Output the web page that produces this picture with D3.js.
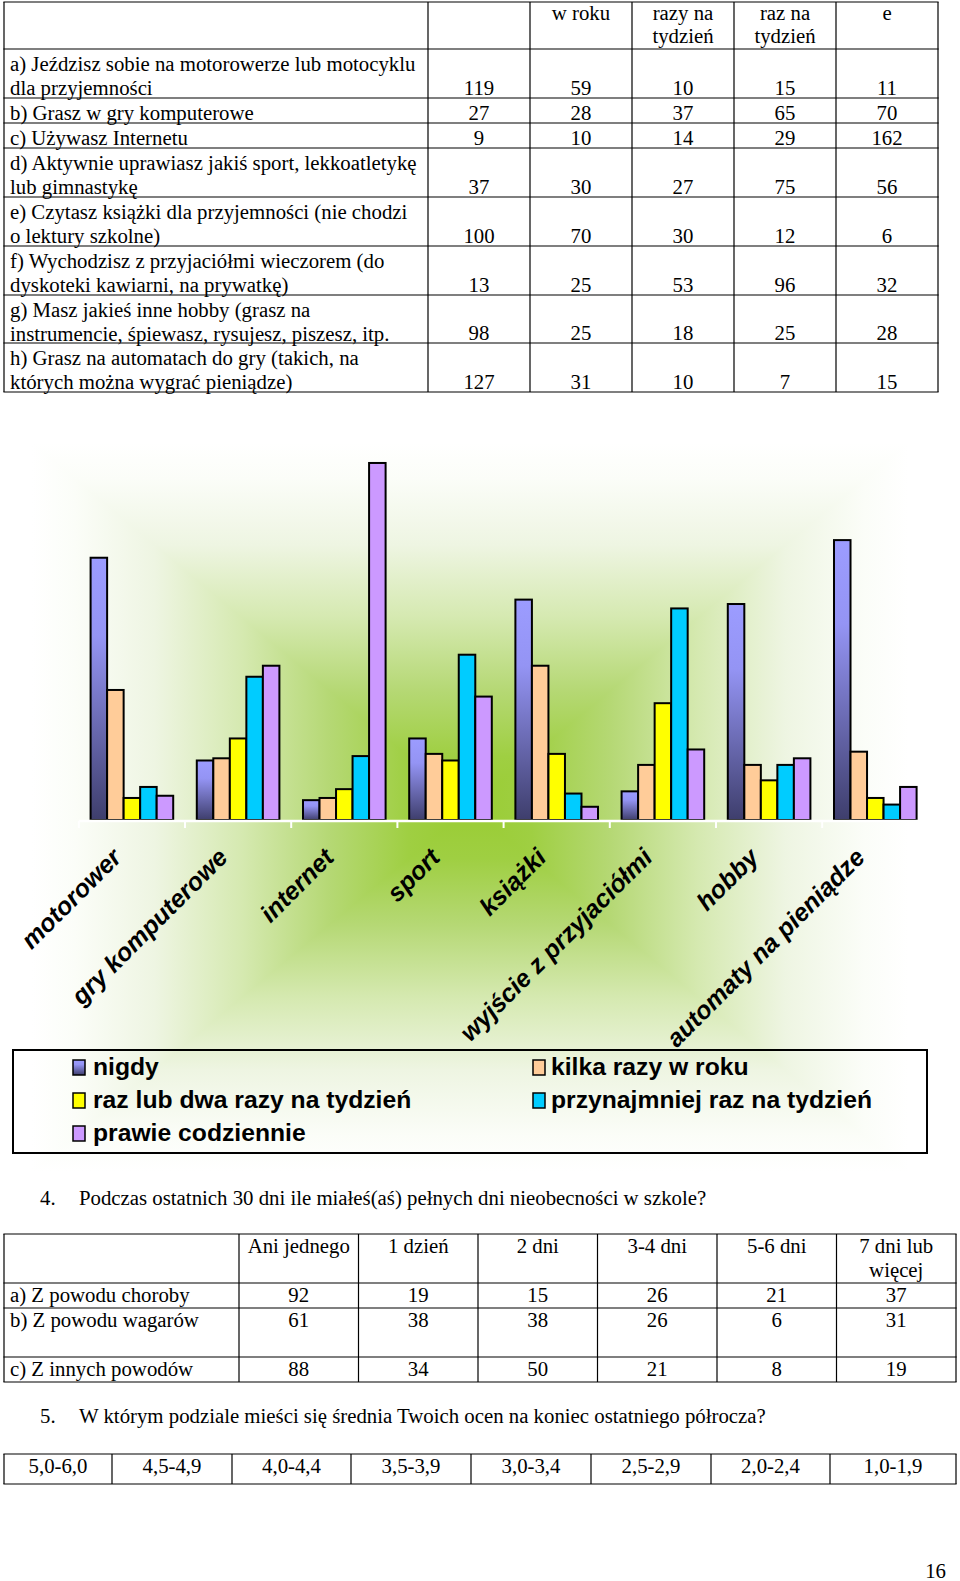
<!DOCTYPE html>
<html><head><meta charset="utf-8">
<script src="https://cdn.jsdelivr.net/npm/d3@7"></script>
<style>body{margin:0;background:#fff} svg{display:block}</style>
</head><body>
<script>
// ---------------- DATA ----------------
const categories = ["motorower","gry komputerowe","internet","sport","książki","wyjście z przyjaciółmi","hobby","automaty na pieniądze"];
const seriesNames = ["nigdy","kilka razy w roku","raz lub dwa razy na tydzień","przynajmniej raz na tydzień","prawie codziennie"];
const nigdy = [119,27,9,37,100,13,98,127];
const kilkaRazyWRoku = [59,28,10,30,70,25,25,31];
const razLubDwa = [10,37,14,27,30,53,18,10];
const przynajmniej = [15,65,29,75,12,96,25,7];
const prawieCodziennie = [11,70,162,56,6,32,28,15];
const seriesColors = ["url(#gNigdy)","#FFCC99","#FFFF00","#00CCFF","#CC99FF"];

const table1Header = [[], ["w roku"], ["razy na","tydzień"], ["raz na","tydzień"], ["e"]];
const table1Labels = [
  ["a) Jeździsz sobie na motorowerze lub motocyklu","dla przyjemności"],
  ["b) Grasz w gry komputerowe"],
  ["c) Używasz Internetu"],
  ["d) Aktywnie uprawiasz jakiś sport, lekkoatletykę","lub gimnastykę"],
  ["e) Czytasz książki dla przyjemności (nie chodzi","o lektury szkolne)"],
  ["f) Wychodzisz z przyjaciółmi wieczorem (do","dyskoteki kawiarni, na prywatkę)"],
  ["g) Masz jakieś inne hobby (grasz na","instrumencie, śpiewasz, rysujesz, piszesz, itp."],
  ["h) Grasz na automatach do gry (takich, na","których można wygrać pieniądze)"]
];

const question4Num = "4.";
const question4 = "Podczas ostatnich 30 dni ile miałeś(aś) pełnych dni nieobecności w szkole?";
const table2Header = [[], ["Ani jednego"], ["1 dzień"], ["2 dni"], ["3-4 dni"], ["5-6 dni"], ["7 dni lub","więcej"]];
const table2Labels = ["a) Z powodu choroby","b) Z powodu wagarów","c) Z innych powodów"];
const zPowoduChoroby = [92,19,15,26,21,37];
const zPowoduWagarow = [61,38,38,26,6,31];
const zInnychPowodow = [88,34,50,21,8,19];
const question5Num = "5.";
const question5 = "W którym podziale mieści się średnia Twoich ocen na koniec ostatniego półrocza?";
const gradeRanges = ["5,0-6,0","4,5-4,9","4,0-4,4","3,5-3,9","3,0-3,4","2,5-2,9","2,0-2,4","1,0-1,9"];
const pageNumber = "16";

// ---------------- SETUP ----------------
const W = 960, H = 1581;
const SERIF = "'Liberation Serif','Times New Roman',serif";
const SANS = "'Liberation Sans',Arial,sans-serif";
const FS = 20.8;
const svg = d3.select("body").append("svg").attr("width", W).attr("height", H);
svg.append("rect").attr("width", W).attr("height", H).attr("fill", "#fff");
const defs = svg.append("defs");

function drawGrid(g, xs, ys) {
  g.selectAll("line.v").data(xs).join("line").attr("class","v")
    .attr("x1", d => d).attr("x2", d => d).attr("y1", ys[0]).attr("y2", ys[ys.length-1])
    .attr("stroke", "#000").attr("stroke-width", 1.2);
  g.selectAll("line.h").data(ys).join("line").attr("class","h")
    .attr("y1", d => d).attr("y2", d => d).attr("x1", xs[0] - 0.6).attr("x2", xs[xs.length-1] + 0.6)
    .attr("stroke", "#000").attr("stroke-width", 1.2);
}
function txt(g, x, y, s, anchor) {
  return g.append("text").attr("x", x).attr("y", y).attr("text-anchor", anchor || "start")
    .attr("font-family", SERIF).attr("font-size", FS).attr("fill", "#000").text(s);
}

// ---------------- TABLE 1 ----------------
const t1 = svg.append("g");
const t1Cols = [4, 428, 530, 632, 734, 836, 938];
const t1Rows = [2, 49, 98, 123, 148, 197, 246, 295, 343, 392];
drawGrid(t1, t1Cols, t1Rows);
const seriesValues = [nigdy, kilkaRazyWRoku, razLubDwa, przynajmniej, prawieCodziennie];
table1Header.forEach((lines, c) => {
  lines.forEach((l, k) => txt(t1, (t1Cols[c+1] + t1Cols[c+2]) / 2, t1Rows[0] + 18 + 23 * k, l, "middle"));
});
table1Labels.forEach((lines, r) => {
  const top = t1Rows[r+1], bot = t1Rows[r+2];
  lines.forEach((l, k) => txt(t1, 10, top + 21.5 + 24 * k, l));
  seriesValues.forEach((vals, c) => txt(t1, (t1Cols[c+1] + t1Cols[c+2]) / 2, bot - 3.5, vals[r], "middle"));
});

// ---------------- CHART ----------------
const chart = svg.append("g");
// rectangular "from centre" gradient background
const bx0 = 32, bx1 = 908, by0 = 443, by1 = 1172;
const bcx = (bx0 + bx1) / 2, bcy = (by0 + by1) / 2;
const profile = [[1,"#ffffff"],[0.9,"#fbfdf8"],[0.72,"#eef5e2"],[0.52,"#d5e9b0"],[0.32,"#b5d874"],[0.14,"#9fcf42"],[0,"#99cc33"]];
const hg = defs.append("linearGradient").attr("id","bgH").attr("gradientUnits","userSpaceOnUse")
  .attr("x1", bx0).attr("x2", bx1).attr("y1", 0).attr("y2", 0);
const vg = defs.append("linearGradient").attr("id","bgV").attr("gradientUnits","userSpaceOnUse")
  .attr("x1", 0).attr("x2", 0).attr("y1", by0).attr("y2", by1);
const symStops = [...profile.map(([t,c]) => [0.5*(1-t), c]), ...profile.slice().reverse().map(([t,c]) => [0.5 + 0.5*t, c])];
[hg, vg].forEach(gr => gr.selectAll("stop").data(symStops).join("stop")
  .attr("offset", d => d[0]).attr("stop-color", d => d[1]));
chart.append("rect").attr("x", bx0).attr("y", by0).attr("width", bx1 - bx0).attr("height", by1 - by0).attr("fill", "url(#bgH)");
chart.append("path").attr("fill", "url(#bgV)")
  .attr("d", `M${bx0},${by0}L${bx1},${by0}L${bcx},${bcy}Z M${bx0},${by1}L${bx1},${by1}L${bcx},${bcy}Z`);

const ng = defs.append("linearGradient").attr("id","gNigdy").attr("x1",0).attr("y1",0).attr("x2",0).attr("y2",1);
[[0,"#9c9cff"],[0.3,"#9494f4"],[1,"#3e3e6c"]].forEach(([o,c]) => ng.append("stop").attr("offset",o).attr("stop-color",c));

const x0 = d3.scaleBand().domain(categories).range([78.8, 928.4]).padding(0);
const x1 = d3.scaleBand().domain(seriesNames).range([0, x0.bandwidth()]).paddingInner(0).paddingOuter(0.714);
const y = d3.scaleLinear().domain([0, 180]).range([820, 423.3]);

const groups = chart.selectAll("g.cat").data(categories).join("g").attr("class","cat")
  .attr("transform", d => `translate(${x0(d)},0)`);
groups.selectAll("rect").data((d, i) => seriesNames.map((s, j) => ({s, j, v: seriesValues[j][i]})))
  .join("rect")
  .attr("x", d => x1(d.s)).attr("width", x1.bandwidth())
  .attr("y", d => y(d.v)).attr("height", d => y(0) - y(d.v))
  .attr("fill", d => seriesColors[d.j]).attr("stroke", "#000").attr("stroke-width", 2);

// axis (white)
const axisY = y(0) + 1;
chart.append("line").attr("x1", x0.range()[0]).attr("x2", x0.range()[1]).attr("y1", axisY).attr("y2", axisY)
  .attr("stroke", "#fff").attr("stroke-width", 2.5);
const bounds = categories.map(c => x0(c)).concat([x0.range()[1]]);
chart.selectAll("line.tick").data(bounds).join("line").attr("class","tick")
  .attr("x1", d => d).attr("x2", d => d).attr("y1", axisY).attr("y2", axisY + 7)
  .attr("stroke", "#fff").attr("stroke-width", 2);
chart.selectAll("text.cat").data(categories).join("text").attr("class","cat")
  .attr("transform", d => `translate(${x0(d) + x0.bandwidth()/2 - 9},859) rotate(-45)`)
  .attr("text-anchor", "end").attr("font-family", SANS).attr("font-weight", "bold").attr("font-style", "italic")
  .attr("font-size", 25).attr("fill", "#000").text(d => d);

// legend
const lg = chart.append("g");
lg.append("rect").attr("x", 13).attr("y", 1050).attr("width", 914).attr("height", 103)
  .attr("fill", "none").attr("stroke", "#000").attr("stroke-width", 2);
const legCols = [{sx: 73, tx: 93}, {sx: 533, tx: 551}];
const legRows = [1075, 1108, 1141];
const items = lg.selectAll("g.item").data(seriesNames).join("g").attr("class","item")
  .attr("transform", (d, i) => `translate(0,${legRows[Math.floor(i/2)]})`);
items.append("rect").attr("x", (d, i) => legCols[i%2].sx).attr("y", -15).attr("width", 12).attr("height", 15)
  .attr("fill", (d, i) => seriesColors[i]).attr("stroke", "#000").attr("stroke-width", 1.5);
items.append("text").attr("x", (d, i) => legCols[i%2].tx).attr("y", 0)
  .attr("font-family", SANS).attr("font-weight", "bold").attr("font-size", 24.7).attr("fill", "#000").text(d => d);

// ---------------- QUESTION 4 + TABLE 2 ----------------
const t2 = svg.append("g");
txt(t2, 40, 1205, question4Num);
txt(t2, 79, 1205, question4);
const t2Cols = [4, 239, 358.5, 478, 597.5, 717, 836.5, 956];
const t2Rows = [1234, 1283, 1308, 1357, 1382];
drawGrid(t2, t2Cols, t2Rows);
table2Header.forEach((lines, c) => {
  if (c === 0) return;
  lines.forEach((l, k) => txt(t2, (t2Cols[c] + t2Cols[c+1]) / 2, t2Rows[0] + 19 + 24 * k, l, "middle"));
});
const t2Values = [zPowoduChoroby, zPowoduWagarow, zInnychPowodow];
table2Labels.forEach((lab, r) => {
  const top = t2Rows[r+1];
  txt(t2, 10, top + 18.5, lab);
  t2Values[r].forEach((v, c) => txt(t2, (t2Cols[c+1] + t2Cols[c+2]) / 2, top + 18.5, v, "middle"));
});

// ---------------- QUESTION 5 + TABLE 3 ----------------
const t3 = svg.append("g");
txt(t3, 40, 1423, question5Num);
txt(t3, 79, 1423, question5);
const t3Cols = [4, 112, 232, 351, 471, 591, 711, 830, 956];
const t3Rows = [1454, 1484];
drawGrid(t3, t3Cols, t3Rows);
gradeRanges.forEach((g, c) => txt(t3, (t3Cols[c] + t3Cols[c+1]) / 2, 1473, g, "middle"));

txt(svg, 946, 1578, pageNumber, "end");
</script>
</body></html>
